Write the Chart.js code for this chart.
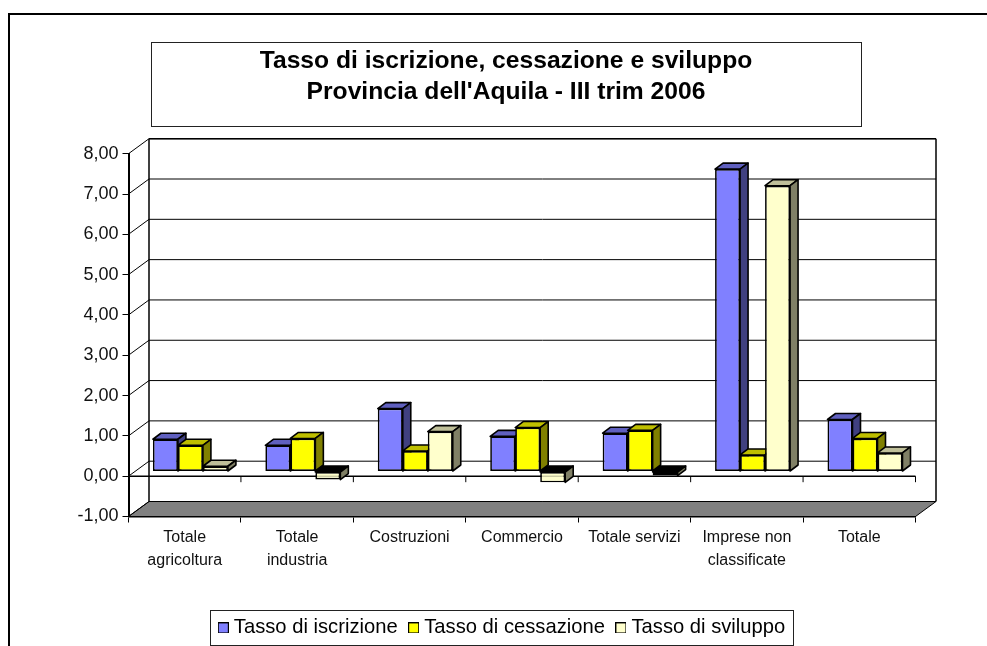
<!DOCTYPE html>
<html>
<head>
<meta charset="utf-8">
<style>html,body{margin:0;padding:0;background:#fff}canvas{display:block}</style>
<script src="https://cdn.jsdelivr.net/npm/chart.js@4"></script>
</head>
<body>
<canvas id="c" width="987" height="646"></canvas>
<script>
const categories = [['Totale','agricoltura'],['Totale','industria'],'Costruzioni','Commercio','Totale servizi',['Imprese non','classificate'],'Totale'];
const iscrizione = [0.80,0.65,1.56,0.87,0.95,7.50,1.29];
const cessazione = [0.65,0.82,0.51,1.09,1.02,0.41,0.82];
const sviluppo   = [0.13,-0.20,0.99,-0.27,-0.10,7.09,0.46];
const seriesNames = ['Tasso di iscrizione','Tasso di cessazione','Tasso di sviluppo'];
const titleLines = ['Tasso di iscrizione, cessazione e sviluppo',"Provincia dell'Aquila - III trim 2006"];
const fontName = '"Liberation Sans", Arial, sans-serif';

const FACE = ['#8080FF','#FFFF00','#FFFFCC'];
const SIDE = ['#404080','#808000','#808066'];
const TOP  = ['#6060BF','#BFBF00','#BFBF99'];
const WALL = {dx:20.5, dy:-15};
const BAR_OFF = {dx:5.7, dy:-4.7};
const BAR_DEPTH = {dx:8, dy:-6};

function swatch(color){
  const c=document.createElement('canvas');c.width=11;c.height=11;
  const g=c.getContext('2d');g.fillStyle='#000';g.fillRect(0,0,11,11);
  g.fillStyle=color;g.fillRect(1,1,9,9);return c;
}
function line(ctx,x1,y1,x2,y2){ctx.beginPath();ctx.moveTo(x1,y1);ctx.lineTo(x2,y2);ctx.stroke();}
function poly(ctx,pts,fill){
  ctx.beginPath();pts.forEach((p,i)=>i?ctx.lineTo(p[0],p[1]):ctx.moveTo(p[0],p[1]));ctx.closePath();
  ctx.fillStyle=fill;ctx.fill();ctx.stroke();
}

const scene = {
  id:'scene',
  afterLayout(chart){
    chart.titleBlock.left = 25; chart.titleBlock.right = 987;
    chart.legend.left = 21; chart.legend.right = 987;
  },
  beforeDraw(chart){
    const ctx=chart.ctx,a=chart.chartArea,y=chart.scales.y;
    ctx.save();
    // frame: left and top edges only
    ctx.strokeStyle='#000';ctx.lineWidth=2;
    ctx.beginPath();ctx.moveTo(9,646);ctx.lineTo(9,14);ctx.lineTo(987,14);ctx.stroke();
    // title box
    ctx.lineWidth=1;ctx.strokeStyle='#222';ctx.strokeRect(151.5,42.5,710,84);
    // legend box
    ctx.strokeRect(210.5,610.5,583,35);
    // floor
    const fl=y.getPixelForValue(-1);
    ctx.strokeStyle='#000';
    poly(ctx,[[a.left,fl],[a.left+WALL.dx,fl+WALL.dy],[a.right+WALL.dx,fl+WALL.dy],[a.right,fl]],'#808080');
    // back wall and side wall grid
    y.ticks.forEach(t=>{
      const p=y.getPixelForValue(t.value);
      line(ctx,a.left,p,a.left+WALL.dx,p+WALL.dy);
      line(ctx,a.left+WALL.dx,p+WALL.dy,a.right+WALL.dx,p+WALL.dy);
    });
    const tp=y.getPixelForValue(8)+WALL.dy,bt=fl+WALL.dy;
    ctx.lineWidth=1.5;
    line(ctx,a.left+WALL.dx,tp,a.left+WALL.dx,bt);
    line(ctx,a.right+WALL.dx,tp,a.right+WALL.dx,bt);
    line(ctx,a.left+WALL.dx,tp,a.right+WALL.dx,tp);
    ctx.restore();
  },
  beforeDatasetsDraw(chart){
    const ctx=chart.ctx,a=chart.chartArea,y=chart.scales.y,x=chart.scales.x;
    const y0=y.getPixelForValue(0);
    ctx.save();
    ctx.strokeStyle='#000';ctx.lineWidth=1.5;
    line(ctx,a.left,y0,a.right,y0);
    ctx.lineWidth=1;
    for(let i=0;i<=categories.length;i++){
      const px=x.getPixelForTick(0)+(i-0.5)*(a.right-a.left)/categories.length;
      line(ctx,px,y0,px,y0+6);
    }
    ctx.restore();
    chart.data.datasets.forEach((ds,i)=>{
      const meta=chart.getDatasetMeta(i);
      meta.data.forEach(bar=>{
        const p=bar.getProps(['x','y','base','width'],true);
        const x0=p.x-p.width/2+BAR_OFF.dx,x1=x0+p.width;
        const hi=Math.min(p.y,p.base)+BAR_OFF.dy,lo=Math.max(p.y,p.base)+BAR_OFF.dy;
        const neg=p.y>p.base,d=BAR_DEPTH;
        ctx.save();
        ctx.strokeStyle='#000';ctx.lineWidth=1.6;ctx.lineJoin='round';
        poly(ctx,[[x0,hi],[x0+d.dx,hi+d.dy],[x1+d.dx,hi+d.dy],[x1,hi]],neg?'#000':TOP[i]);
        poly(ctx,[[x1,hi],[x1+d.dx,hi+d.dy],[x1+d.dx,lo+d.dy],[x1,lo]],SIDE[i]);
        ctx.translate(BAR_OFF.dx,BAR_OFF.dy);
        bar.draw(ctx,a);
        ctx.restore();
        if(neg && lo>y0){
          ctx.save();ctx.strokeStyle='rgba(0,0,0,.3)';ctx.lineWidth=1;
          line(ctx,x0,y0,x1,y0);ctx.restore();
        }
      });
    });
    return false;
  }
};

new Chart(document.getElementById('c'),{
  type:'bar',
  plugins:[scene],
  data:{labels:categories,datasets:[
    {label:seriesNames[0],data:iscrizione,backgroundColor:FACE[0]},
    {label:seriesNames[1],data:cessazione,backgroundColor:FACE[1]},
    {label:seriesNames[2],data:sviluppo,backgroundColor:FACE[2]}
  ]},
  options:{
    responsive:false,animation:false,
    layout:{padding:{left:17,right:71.5,top:0,bottom:-2}},
    datasets:{bar:{categoryPercentage:0.667,barPercentage:1,borderColor:'#000',borderWidth:1.7,borderSkipped:false,inflateAmount:0}},
    scales:{
      x:{
        grid:{offset:true,drawOnChartArea:false,tickLength:6,color:'#000',lineWidth:1},
        border:{display:true,color:'#000',width:1.5},
        ticks:{autoSkip:false,maxRotation:0,minRotation:0,padding:4,color:'#111',font:{family:fontName,size:16,lineHeight:1.44}},
        afterFit(s){s.height=85.8;}
      },
      y:{
        min:-1,max:8,
        grid:{drawOnChartArea:false,tickLength:6,color:'#000',lineWidth:1},
        border:{display:true,color:'#000',width:2},
        ticks:{stepSize:1,padding:4,color:'#111',font:{family:fontName,size:18},callback:v=>v.toFixed(2).replace('.',',')},
        afterFit(s){s.width=111.5;}
      }
    },
    plugins:{
      tooltip:{enabled:false},
      title:{display:true,text:titleLines,color:'#000',font:{family:fontName,size:24.65,weight:'bold',lineHeight:1.28},padding:{top:45,bottom:153.7-45-63.1}},
      legend:{
        position:'bottom',
        labels:{
          usePointStyle:true,pointStyleWidth:1,padding:15.5,color:'#000',
          font:{family:fontName,size:20.2},
          generateLabels(chart){
            const items=Chart.defaults.plugins.legend.labels.generateLabels(chart);
            items.forEach(it=>{it.pointStyle=swatch(it.fillStyle);});
            return items;
          }
        }
      }
    }
  }
});
</script>
</body>
</html>
